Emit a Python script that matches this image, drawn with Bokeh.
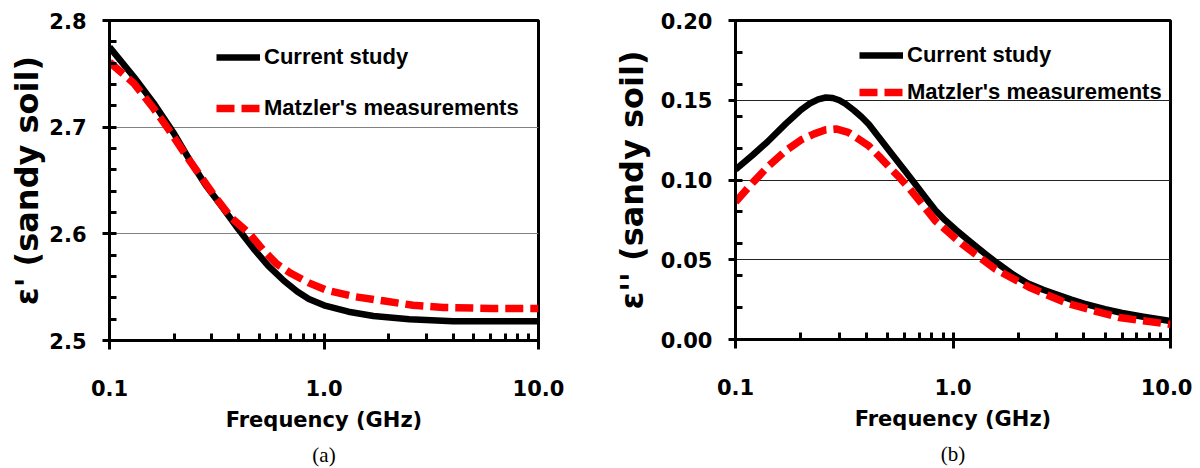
from bokeh.plotting import figure
from bokeh.layouts import row
from bokeh.models import Range1d, FixedTicker, Legend, LegendItem, Title, Spacer
from bokeh.embed import file_html
from bokeh.resources import INLINE

# ---------------- data ----------------
freq_a = [0.1, 0.13, 0.16, 0.2, 0.24, 0.28, 0.33, 0.4, 0.47, 0.55, 0.65, 0.75, 0.85,
          1.0, 1.3, 1.7, 2.5, 4.0, 10.0]
eps1_current = [2.775, 2.747, 2.723, 2.694, 2.667, 2.646, 2.627, 2.604, 2.586, 2.570,
                2.556, 2.546, 2.539, 2.533, 2.527, 2.523, 2.520, 2.518, 2.518]
freq_a_m = [0.1, 0.13, 0.16, 0.19, 0.23, 0.27, 0.31, 0.37, 0.45, 0.52, 0.6, 0.7, 0.85,
            1.03, 1.4, 1.92, 2.6, 3.6, 6.0, 10.0]
eps1_matzler = [2.761, 2.741, 2.718, 2.697, 2.672, 2.652, 2.635, 2.615, 2.600, 2.585,
                2.572, 2.563, 2.554, 2.547, 2.541, 2.537, 2.533, 2.531, 2.530, 2.530]

freq_b = [0.1, 0.12, 0.14, 0.17, 0.2, 0.22, 0.24, 0.26, 0.28, 0.30, 0.32, 0.35, 0.38,
          0.41, 0.46, 0.52, 0.6, 0.67, 0.75, 0.83, 0.92, 1.03, 1.2, 1.4, 1.6, 1.9, 2.2,
          2.6, 3.0, 3.5, 4.0, 5.0, 6.0, 7.5, 10.0]
eps2_current = [0.1066, 0.1157, 0.1238, 0.1352, 0.1440, 0.1480, 0.1506, 0.1517, 0.1514,
                0.1500, 0.1478, 0.1437, 0.1395, 0.1350, 0.1262, 0.1168, 0.1059, 0.0975,
                0.0887, 0.0810, 0.0748, 0.0688, 0.0613, 0.0539, 0.0478, 0.0405, 0.0353,
                0.0312, 0.0282, 0.0250, 0.0225, 0.0190, 0.0166, 0.0143, 0.0116]
freq_b_m = [0.1, 0.12, 0.14, 0.17, 0.2, 0.23, 0.26, 0.29, 0.33, 0.37, 0.41, 0.46, 0.51,
            0.57, 0.63, 0.72, 0.83, 0.95, 1.1, 1.3, 1.57, 1.9, 2.24, 2.8, 3.4, 4.5, 5.8,
            7.5, 10.0]
eps2_matzler = [0.0862, 0.0984, 0.1080, 0.1183, 0.1251, 0.1289, 0.1315, 0.1320, 0.1299,
                0.1255, 0.1214, 0.1145, 0.1080, 0.1013, 0.0947, 0.0850, 0.0744, 0.0674,
                0.0598, 0.0524, 0.0441, 0.0379, 0.0328, 0.0271, 0.0224, 0.0178, 0.0138,
                0.0117, 0.0095]

x_ticks = [0.1, 1.0, 10.0]
x_tick_labels = ["0.1", "1.0", "10.0"]
x_minor = [m * d for d in (0.1, 1.0) for m in range(2, 10)]

ya_ticks = [2.5, 2.6, 2.7, 2.8]
ya_tick_labels = ["2.5", "2.6", "2.7", "2.8"]
ya_minor = [round(2.5 + 0.02 * i, 2) for i in range(16)]

yb_ticks = [0.0, 0.05, 0.10, 0.15, 0.20]
yb_tick_labels = ["0.00", "0.05", "0.10", "0.15", "0.20"]
yb_minor = [round(0.02 * i, 2) for i in range(11)]

series_names = ["Current study", "Matzler's measurements"]

TICK_FONT = "DejaVu Sans"


def make_panel(fx_c, y_c, fx_m, y_m, yr, yticks, ylabels, yminor, ylabel, caption,
               fw, fh, bl, br, bt, bb, leg_xy, leg_spacing, grid_color, ylab_standoff):
    p = figure(x_axis_type="log", output_backend="svg", toolbar_location=None,
               frame_width=fw, frame_height=fh,
               min_border_left=bl, min_border_right=br,
               min_border_top=bt, min_border_bottom=bb,
               x_range=Range1d(0.1, 10.0), y_range=Range1d(*yr))
    p.background_fill_color = "white"
    p.border_fill_color = "white"
    p.outline_line_color = "black"
    p.outline_line_width = 3

    lc = p.line(fx_c, y_c, line_color="black", line_width=6.5, line_join="round")
    lm = p.line(fx_m, y_m, line_color="#ff0000", line_width=7.5, line_dash="18 7",
                line_join="round")

    # x axis
    xa = p.xaxis[0]
    xa.ticker = FixedTicker(ticks=x_ticks, minor_ticks=x_minor)
    xa.major_label_overrides = {t: l for t, l in zip(x_ticks, x_tick_labels)}
    xa.axis_line_width = 3
    xa.axis_line_color = "black"
    xa.major_tick_line_width = 3
    xa.major_tick_line_color = "black"
    xa.major_tick_in = 7
    xa.major_tick_out = 9
    xa.minor_tick_line_width = 3
    xa.minor_tick_line_color = "black"
    xa.minor_tick_in = 7
    xa.minor_tick_out = 0
    xa.major_label_text_font = TICK_FONT
    xa.major_label_text_font_style = "bold"
    xa.major_label_text_font_size = "21px"
    xa.major_label_text_color = "black"
    xa.major_label_standoff = 30
    xa.axis_label = "Frequency (GHz)"
    xa.axis_label_text_font = TICK_FONT
    xa.axis_label_text_font_style = "bold"
    xa.axis_label_text_font_size = "21px"
    xa.axis_label_text_color = "black"
    xa.axis_label_standoff = 9

    # y axis
    ya = p.yaxis[0]
    ya.ticker = FixedTicker(ticks=yticks, minor_ticks=yminor)
    ya.major_label_overrides = {t: l for t, l in zip(yticks, ylabels)}
    ya.axis_line_width = 3
    ya.axis_line_color = "black"
    ya.major_tick_line_width = 3
    ya.major_tick_line_color = "black"
    ya.major_tick_in = 0
    ya.major_tick_out = 7
    ya.minor_tick_line_width = 3
    ya.minor_tick_line_color = "black"
    ya.minor_tick_in = 7
    ya.minor_tick_out = 0
    ya.major_label_text_font = TICK_FONT
    ya.major_label_text_font_style = "bold"
    ya.major_label_text_font_size = "21px"
    ya.major_label_text_color = "black"
    ya.major_label_standoff = 16
    ya.axis_label = ylabel
    ya.axis_label_text_font = TICK_FONT
    ya.axis_label_text_font_style = "bold"
    ya.axis_label_text_font_size = "32px"
    ya.axis_label_text_color = "black"
    ya.axis_label_standoff = ylab_standoff

    p.xgrid.visible = False
    p.ygrid.ticker = FixedTicker(ticks=yticks)
    p.ygrid.grid_line_color = grid_color
    p.ygrid.grid_line_width = 1

    legend = Legend(items=[LegendItem(label=series_names[0], renderers=[lc]),
                           LegendItem(label=series_names[1], renderers=[lm])],
                    location=leg_xy, padding=0, margin=0, spacing=leg_spacing,
                    glyph_width=44, glyph_height=34, label_height=34,
                    label_standoff=4,
                    label_text_font="Liberation Sans",
                    label_text_font_style="bold",
                    label_text_font_size="22px",
                    label_text_color="black",
                    background_fill_alpha=0, border_line_alpha=0)
    p.add_layout(legend, "center")

    cap = Title(text=caption, align="center", text_font="Liberation Serif",
                text_font_style="normal", text_font_size="21px",
                text_color="black", standoff=12)
    p.add_layout(cap, "below")
    return p


pa = make_panel(freq_a, eps1_current, freq_a_m, eps1_matzler, (2.5, 2.8),
                ya_ticks, ya_tick_labels, ya_minor, "\u03b5' (sandy soil)", "(a)",
                fw=429, fh=320, bl=90, br=57, bt=16, bb=110,
                leg_xy=(107, 215), leg_spacing=17, grid_color="#808080",
                ylab_standoff=0)
pb = make_panel(freq_b, eps2_current, freq_b_m, eps2_matzler, (0.0, 0.2),
                yb_ticks, yb_tick_labels, yb_minor, "\u03b5'' (sandy soil)", "(b)",
                fw=435, fh=319, bl=140, br=22, bt=20, bb=110,
                leg_xy=(124, 230), leg_spacing=3, grid_color="#222222",
                ylab_standoff=7)

layout = row(Spacer(width=5, height=10), pa, pb, spacing=0)
open("out.html", "w").write(file_html(layout, INLINE))
